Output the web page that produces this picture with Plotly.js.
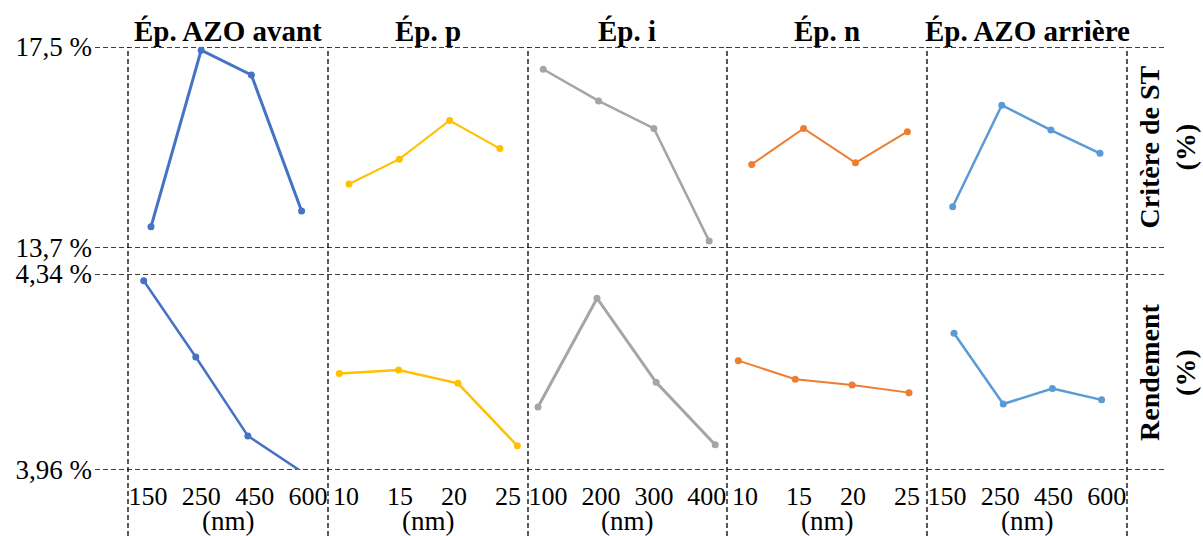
<!DOCTYPE html>
<html>
<head>
<meta charset="utf-8">
<script src="https://cdn.plot.ly/plotly-3.0.1.min.js"></script>
<style>html,body{margin:0;padding:0;background:#fff;}#chart{width:1203px;height:536px;}</style>
</head>
<body>
<div id="chart"></div>
<script>
// ---- data ----
const colTitles = ['Ép. AZO avant', 'Ép. p', 'Ép. i', 'Ép. n', 'Ép. AZO arrière'];
const catAZOavant = ['150', '250', '450', '600'];
const catP = ['10', '15', '20', '25'];
const catI = ['100', '200', '300', '400'];
const catN = ['10', '15', '20', '25'];
const catAZOarriere = ['150', '250', '450', '600'];

// Critère de ST (%)
const stAZOavant = [14.10, 17.44, 16.97, 14.40];
const stP = [14.91, 15.38, 16.11, 15.58];
const stI = [17.08, 16.48, 15.96, 13.83];
const stN = [15.28, 15.96, 15.31, 15.90];
const stAZOarriere = [14.48, 16.40, 15.93, 15.49];

// Rendement (%)
const rdAZOavant = [4.327, 4.179, 4.026, 3.959];
const rdP = [4.147, 4.154, 4.128, 4.007];
const rdI = [4.082, 4.293, 4.130, 4.009];
const rdN = [4.172, 4.136, 4.125, 4.110];
const rdAZOarriere = [4.225, 4.088, 4.118, 4.096];

const yTicksST = [13.7, 17.5];
const yTickTextST = ['13,7 %', '17,5 %'];
const yTicksRd = [3.96, 4.34];
const yTickTextRd = ['3,96 %', '4,34 %'];
const rowLabels = ['Critère de ST<br>(%)', 'Rendement<br>(%)'];
const unitLabel = '(nm)';

// ---- styling / layout ----
const W = 1203, H = 536;
const FONT = 'Liberation Serif, Times New Roman, serif';
const colors = ['#4472C4', '#FFC000', '#A5A5A5', '#ED7D31', '#5B9BD5'];
const widthsTop = [3, 2, 2.5, 2, 2.5];
const widthsBot = [2.5, 2.5, 3, 2, 2.5];
const edges = [128, 328, 528, 727, 927, 1127];
const topPx = [47, 248], botPx = [274, 470];
const px = v => v / W, py = v => 1 - v / H;

const cats = [catAZOavant, catP, catI, catN, catAZOarriere];
const stSeries = [stAZOavant, stP, stI, stN, stAZOarriere];
const rdSeries = [rdAZOavant, rdP, rdI, rdN, rdAZOarriere];

const xRangeTop = [[-0.458, 3.526], [-0.418, 3.558], [-0.275, 3.322], [-0.476, 3.378], [-0.523, 3.55]];
const xRangeBot = [[-0.301, 3.538], [-0.19, 3.18], [-0.169, 3.2], [-0.199, 3.316], [-0.549, 3.516]];
const xRangeLab = [[-0.377, 3.377], [-0.333, 3.37], [-0.377, 3.38], [-0.333, 3.37], [-0.377, 3.38]];

const traces = [];
const layout = {
  width: W, height: H,
  margin: {l: 0, r: 0, t: 0, b: 0},
  paper_bgcolor: '#fff', plot_bgcolor: 'rgba(0,0,0,0)',
  showlegend: false,
  font: {family: FONT, color: '#000', size: 24},
  shapes: [], annotations: []
};

function hiddenX(dom, range, anchor) {
  return {domain: dom, range: range, type: 'category', anchor: anchor,
    showgrid: false, zeroline: false, showline: false, showticklabels: false, ticks: '', fixedrange: true};
}

for (let c = 0; c < 5; c++) {
  const dom = [px(edges[c]), px(edges[c + 1])];
  const iT = c + 1, iB = c + 6, iL = c + 11;
  const xT = 'x' + (iT === 1 ? '' : iT), yT = 'y' + (iT === 1 ? '' : iT);
  const xB = 'x' + iB, yB = 'y' + iB, xL = 'x' + iL;

  traces.push({type: 'scatter', mode: 'lines+markers', x: cats[c], y: stSeries[c],
    xaxis: xT, yaxis: yT, cliponaxis: false, hoverinfo: 'skip',
    line: {color: colors[c], width: widthsTop[c]}, marker: {color: colors[c], size: 7}});
  traces.push({type: 'scatter', mode: 'lines+markers', x: cats[c], y: rdSeries[c],
    xaxis: xB, yaxis: yB, cliponaxis: false, hoverinfo: 'skip',
    line: {color: colors[c], width: widthsBot[c]}, marker: {color: colors[c], size: 7}});
  // label axis (category tick labels) under bottom row
  traces.push({type: 'scatter', mode: 'markers', x: cats[c], y: cats[c].map(() => null),
    xaxis: xL, yaxis: yB, hoverinfo: 'skip', marker: {size: 0, opacity: 0}});

  layout['xaxis' + (iT === 1 ? '' : iT)] = hiddenX(dom, xRangeTop[c], yT);
  layout['xaxis' + iB] = hiddenX(dom, xRangeBot[c], yB);
  layout['xaxis' + iL] = {
    overlaying: xB, anchor: yB, side: 'bottom', type: 'category', range: xRangeLab[c],
    showgrid: false, zeroline: false, showline: false, ticks: '', fixedrange: true,
    tickfont: {family: FONT, size: 26, color: '#000'}, ticklabelstandoff: 8
  };

  const yBase = {zeroline: false, showgrid: false, showline: false, ticks: '', fixedrange: true,
    tickfont: {family: FONT, size: 27, color: '#000'}, ticklabelstandoff: 35};
  layout['yaxis' + (iT === 1 ? '' : iT)] = Object.assign({}, yBase, {
    domain: [py(topPx[1]), py(topPx[0])], range: [yTicksST[0], yTicksST[1]], anchor: xT,
    tickmode: 'array', tickvals: yTicksST, ticktext: yTickTextST, showticklabels: c === 0});
  layout['yaxis' + iB] = Object.assign({}, yBase, {
    domain: [py(botPx[1]), py(botPx[0])], range: [yTicksRd[0], yTicksRd[1]], anchor: xB,
    tickmode: 'array', tickvals: yTicksRd, ticktext: yTickTextRd, showticklabels: c === 0});

  layout.annotations.push({text: '<b>' + colTitles[c] + '</b>', xref: 'paper', yref: 'paper',
    x: (dom[0] + dom[1]) / 2, y: py(30.5), xanchor: 'center', yanchor: 'middle', showarrow: false,
    font: {family: FONT, size: 29, color: '#000'}});
  // unit under each column
  layout.annotations.push({text: unitLabel, xref: 'paper', yref: 'paper',
    x: (dom[0] + dom[1]) / 2, y: py(521), xanchor: 'center', yanchor: 'middle', showarrow: false,
    font: {family: FONT, size: 27, color: '#000'}});
}

// dashed frame lines
const dashLine = {color: '#000', width: 1.3, dash: '5px,3px'};
[[yTicksST, 'y'], [yTicksRd, 'y6']].forEach(([vals, yr]) => {
  vals.forEach(v => layout.shapes.push({type: 'line', xref: 'paper', yref: yr,
    x0: px(95), x1: px(1167), y0: v, y1: v, line: dashLine, layer: 'below'}));
});
edges.forEach(e => layout.shapes.push({type: 'line', xref: 'paper', yref: 'paper',
  x0: px(e), x1: px(e), y0: 0, y1: py(topPx[0]), line: dashLine, layer: 'below'}));

// row labels on the right
[[topPx, rowLabels[0]], [botPx, rowLabels[1]]].forEach(([r, t]) => {
  layout.annotations.push({text: '<b>' + t + '</b>', xref: 'paper', yref: 'paper',
    x: px(1167), y: py((r[0] + r[1]) / 2), xanchor: 'center', yanchor: 'middle',
    textangle: -90, showarrow: false, align: 'center',
    font: {family: FONT, size: 28, color: '#000'}});
});

Plotly.newPlot('chart', traces, layout, {staticPlot: true, displayModeBar: false});
</script>
</body>
</html>
